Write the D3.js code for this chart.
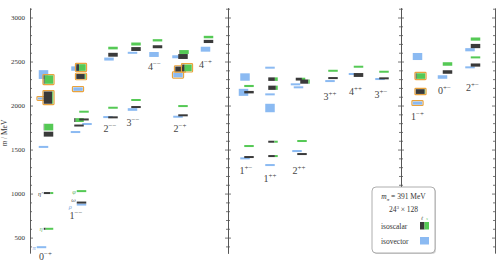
<!DOCTYPE html>
<html>
<head>
<meta charset="utf-8">
<script src="https://cdn.jsdelivr.net/npm/d3@7"></script>
<style>
body { margin: 0; background: #fff; }
svg { font-family: "Liberation Serif", "DejaVu Serif", serif; }
.axis path, .axis line { stroke: #555; stroke-width: 0.8; }
</style>
</head>
<body>
<svg id="chart" width="500" height="263"></svg>
<script>
// J^PC channels, in plotting order
var channels = ["0-+", "1--", "2--", "3--", "4--", "2-+", "4-+",
                "1+-", "1++", "2++", "3++", "4++", "3+-",
                "1-+", "0+-", "2+-"];

// isovector levels: [channel, mass MeV, error MeV, slot, hybrid]
var isovector = [
    ["0-+", 391, 2, -0.4, 0], ["0-+", 1530, 3, 0, 0], ["0-+", 2080, 4, -0.2, 1], ["0-+", 2352, 50, 0, 0],
    ["1--", 875, 2, 1.5, 0], ["1--", 1699, 4, 0.3, 0], ["1--", 1790, 3, 2.6, 0], ["1--", 2187, 20, 0.8, 1], ["1--", 2420, 25, 0.4, 0],
    ["2--", 1869, 3, 0, 0], ["2--", 2528, 17, 0.2, 0],
    ["3--", 1955, 15, 0.3, 0], ["3--", 2599, 8, 0.3, 0],
    ["4--", 2580, 28, 0.3, 0],
    ["2-+", 1873, 3, 0, 0], ["2-+", 2347, 26, 0, 1], ["2-+", 2554, 17, -0.2, 0],
    ["4-+", 2640, 28, 0.4, 0],
    ["1+-", 1400, 3, 0.2, 0], ["1+-", 2150, 40, -0.1, 0], ["1+-", 2324, 42, 0.2, 0],
    ["1++", 1324, 2, 0.4, 0], ["1++", 1972, 48, 0.4, 0], ["1++", 2127, 3, 0.4, 0], ["1++", 2430, 6, 0.4, 0],
    ["2++", 1483, 2, 0, 0], ["2++", 2207, 10, 0.3, 0], ["2++", 2241, 3, -0.3, 0],
    ["3++", 2278, 3, 0.4, 0],
    ["4++", 2358, 3, 0, 0],
    ["3+-", 2301, 3, 0.2, 0],
    ["1-+", 2028, 18, 0.4, 1], ["1-+", 2557, 40, 0.4, 0],
    ["0+-", 2324, 20, 0, 0],
    ["2+-", 2434, 3, -0.1, 0], ["2+-", 2634, 18, -0.1, 0]
];

// isoscalar levels: [channel, mass MeV, error MeV, strange fraction, slot, hybrid]
var isoscalar = [
    ["0-+", 600, 2, 0.8, 0, 0], ["0-+", 1006, 4, 0.3, 0, 0], ["0-+", 1675, 28, 0, 0, 0], ["0-+", 1755, 38, 0.95, 0, 0],
    ["0-+", 2090, 70, 0.1, 0, 1], ["0-+", 2295, 48, 0.9, 0, 1],
    ["1--", 898, 2, 0, 0.5, 0], ["1--", 1028, 2, 1, 0.5, 0], ["1--", 1773, 10, 0, 0, 0], ["1--", 1835, 22, 0.85, 0, 0],
    ["1--", 1842, 3, 0, 1, 0], ["1--", 1930, 3, 1, 1, 0], ["1--", 2330, 28, 0.1, 0.4, 1], ["1--", 2432, 38, 0.7, 0.4, 1],
    ["2--", 1866, 10, 0, 0, 0], ["2--", 1975, 3, 1, 0, 0], ["2--", 2577, 22, 0, 0, 0], ["2--", 2653, 15, 1, 0, 0],
    ["3--", 1983, 4, 0, 0, 0], ["3--", 2063, 4, 1, 0, 0], ["3--", 2642, 22, 0, 0, 0], ["3--", 2699, 17, 1, 0, 0],
    ["4--", 2668, 17, 0, 0, 0], ["4--", 2741, 13, 1, 0, 0],
    ["2-+", 1889, 4, 0, 0, 0], ["2-+", 1994, 3, 1, 0, 0], ["2-+", 2557, 28, 0, 0, 0], ["2-+", 2608, 22, 0.95, 0.2, 0],
    ["2-+", 2415, 28, 0.1, -0.6, 1], ["2-+", 2428, 38, 0.75, 0.8, 1],
    ["4-+", 2728, 18, 0, 0, 0], ["4-+", 2778, 14, 1, 0, 0],
    ["1+-", 1415, 4, 0, 0, 0], ["1+-", 1540, 3, 1, 0, 0], ["1+-", 2152, 14, 0, 0, 0], ["1+-", 2222, 12, 1, 0, 0],
    ["1++", 1426, 6, 0.3, 0, 0], ["1++", 1589, 6, 0.35, 0, 0], ["1++", 2202, 24, 0.2, 0, 0], ["1++", 2300, 20, 0.3, 0, 0],
    ["2++", 1449, 5, 0, 0, 0], ["2++", 1597, 3, 1, 0, 0], ["2++", 2300, 16, 0.35, -0.3, 0], ["2++", 2272, 24, 0.15, 0.6, 0],
    ["3++", 2312, 4, 0, 0, 0], ["3++", 2395, 4, 1, 0, 0],
    ["4++", 2347, 22, 0, 0, 0], ["4++", 2441, 8, 1, 0, 0],
    ["3+-", 2309, 5, 0, 0, 0], ["3+-", 2384, 5, 1, 0, 0],
    ["1-+", 2159, 27, 0.05, 0, 1], ["1-+", 2335, 32, 0.9, 0, 1],
    ["0+-", 2381, 20, 0, 0, 0], ["0+-", 2472, 20, 1, 0, 0],
    ["2+-", 2460, 18, 0, 0, 0], ["2+-", 2547, 4, 1, 0, 0], ["2+-", 2676, 24, 0, 0, 0], ["2+-", 2755, 18, 1, 0, 0]
];

// named low-lying states: [name, channel, kind, mass]
var stateNames = [
    ["π", "0-+", "v", 391], ["η", "0-+", "s", 600], ["η′", "0-+", "s", 1006],
    ["ρ", "1--", "v", 875], ["ω", "1--", "s", 898], ["φ", "1--", "s", 1028]
];

var yTicksMajor = [500, 1000, 1500, 2000, 2500, 3000];

// ---- layout ----
var panelEdges = [30, 228, 401, 495];
var chanCenter = [48.5, 79, 113, 136, 157.5, 183, 208.5,
                  249, 273, 302, 333, 358.5, 384,
                  420.5, 447.5, 475.5];
// label baseline, in MeV units
var chanLabelAt = [244, 710, 1699, 1767, 2403, 1699, 2426,
                   1222, 1131, 1222, 2063, 2119, 2085,
                   1835, 2131, 2165];
// small nudges for the state names (px)
var nameNudge = {"π": [0, 2.5], "η": [0, 2.5], "η′": [0, 2.5], "ρ": [-4, 4.5], "ω": [0, -0.5], "φ": [0, 2.5]};
var boxW = 9.5, slotW = 5, ivShift = -5;
var cBlack = "#3a3a3a", cGreen = "#55c955", cBlue = "#8bbaf2", cOrange = "#e9a33d";

var svg = d3.select("#chart");

var y = d3.scaleLinear().domain([325, 3108]).range([253, 8]);
var x = d3.scaleOrdinal().domain(channels).range(chanCenter);
var labelY = d3.scaleOrdinal().domain(channels).range(chanLabelAt);

function boxH(err) { return Math.max(2, Math.abs(y(0) - y(2 * err))); }

// ---- axes ----
var minorTicks = d3.range(400, 3101, 100).filter(function(v) { return v % 500 != 0; });

function addTicks(x0, axisFn) {
    svg.append("g").attr("class", "axis")
        .attr("transform", "translate(" + x0 + ",0)")
        .call(axisFn(y).tickValues(minorTicks).tickSize(2).tickSizeOuter(0).tickFormat(""));
    svg.append("g").attr("class", "axis")
        .attr("transform", "translate(" + x0 + ",0)")
        .call(axisFn(y).tickValues(yTicksMajor).tickSize(3).tickSizeOuter(0).tickFormat(""));
}
addTicks(panelEdges[0], d3.axisRight);
addTicks(panelEdges[1], d3.axisRight);
addTicks(panelEdges[1], d3.axisLeft);
addTicks(panelEdges[2], d3.axisRight);
addTicks(panelEdges[2], d3.axisLeft);
addTicks(panelEdges[3], d3.axisLeft);

var yLab = svg.append("g")
    .attr("transform", "translate(" + panelEdges[0] + ",0)")
    .call(d3.axisLeft(y).tickValues(yTicksMajor).tickSize(0).tickPadding(5).tickFormat(d3.format("d")));
yLab.select(".domain").remove();
yLab.selectAll("text").attr("font-family", "Liberation Serif").attr("font-size", 7).attr("fill", "#333");

var yt = svg.append("text")
    .attr("transform", "translate(7,133) rotate(-90)")
    .attr("text-anchor", "middle")
    .attr("font-size", 7.5).attr("fill", "#333");
yt.append("tspan").attr("font-style", "italic").text("m");
yt.append("tspan").text(" / MeV");

// ---- levels ----
var ivData = isovector.map(function(d) {
    return {ch: d[0], m: d[1], e: d[2], slot: d[3], hyb: d[4]};
});
var isData = isoscalar.map(function(d) {
    return {ch: d[0], m: d[1], e: d[2], s: d[3], slot: d[4], hyb: d[5]};
});

function ivX(d) { return x(d.ch) + ivShift + d.slot * slotW; }
function isX(d) { return x(d.ch) + d.slot * slotW; }

var gIV = svg.append("g");
gIV.selectAll("rect.hyb").data(ivData.filter(function(d) { return d.hyb; }))
    .enter().append("rect")
    .attr("x", function(d) { return ivX(d) - boxW / 2 - 0.8; })
    .attr("y", function(d) { return y(d.m) - boxH(d.e) / 2 - 0.8; })
    .attr("width", boxW + 1.6)
    .attr("height", function(d) { return boxH(d.e) + 1.6; })
    .attr("fill", "none").attr("stroke", cOrange).attr("stroke-width", 1.2).attr("rx", 0.8);
gIV.selectAll("rect.lev").data(ivData).enter().append("rect")
    .attr("x", function(d) { return ivX(d) - boxW / 2; })
    .attr("y", function(d) { return y(d.m) - boxH(d.e) / 2; })
    .attr("width", boxW)
    .attr("height", function(d) { return boxH(d.e); })
    .attr("fill", cBlue);

var gIS = svg.append("g");
var lev = gIS.selectAll("g.lev").data(isData).enter().append("g");
lev.filter(function(d) { return d.hyb; }).append("rect")
    .attr("x", function(d) { return isX(d) - boxW / 2 - 0.8; })
    .attr("y", function(d) { return y(d.m) - boxH(d.e) / 2 - 0.8; })
    .attr("width", boxW + 1.6)
    .attr("height", function(d) { return boxH(d.e) + 1.6; })
    .attr("fill", "none").attr("stroke", cOrange).attr("stroke-width", 1.2).attr("rx", 0.8);
lev.append("rect")
    .attr("x", function(d) { return isX(d) - boxW / 2; })
    .attr("y", function(d) { return y(d.m) - boxH(d.e) / 2; })
    .attr("width", function(d) { return boxW * (1 - d.s); })
    .attr("height", function(d) { return boxH(d.e); })
    .attr("fill", cBlack);
lev.append("rect")
    .attr("x", function(d) { return isX(d) - boxW / 2 + boxW * (1 - d.s); })
    .attr("y", function(d) { return y(d.m) - boxH(d.e) / 2; })
    .attr("width", function(d) { return boxW * d.s; })
    .attr("height", function(d) { return boxH(d.e); })
    .attr("fill", cGreen);

// names of the ground states
var nameColor = {"π": "#7ea7dd", "η": "#6fb86f", "η′": "#444", "ρ": "#7ea7dd", "ω": "#666", "φ": "#6fb86f"};
svg.append("g").selectAll("text").data(stateNames).enter().append("text")
    .attr("x", function(d) {
        var cx = d[2] == "v" ? x(d[1]) + ivShift : x(d[1]);
        var row = (d[2] == "v" ? ivData : isData).filter(function(r) { return r.ch == d[1] && r.m == d[3]; })[0];
        return cx + row.slot * slotW - boxW / 2 - 1 + nameNudge[d[0]][0];
    })
    .attr("y", function(d) { return y(d[3]) + nameNudge[d[0]][1]; })
    .attr("text-anchor", "end")
    .attr("font-size", 6.5).attr("font-style", "italic")
    .attr("fill", function(d) { return nameColor[d[0]]; })
    .text(function(d) { return d[0]; });

// channel labels
var cl = svg.append("g").selectAll("text").data(channels).enter().append("text")
    .attr("x", function(d) { return x(d) - 3; })
    .attr("y", function(d) { return y(labelY(d)); })
    .attr("text-anchor", "middle")
    .attr("font-size", 10).attr("fill", "#444");
cl.append("tspan").text(function(d) { return d[0]; });
cl.append("tspan").attr("font-size", 7).attr("dy", -4)
    .text(function(d) { return d.slice(1).replace(/-/g, "−"); });

// ---- legend ----
var lg = svg.append("g");
lg.append("rect").attr("x", 373).attr("y", 188).attr("width", 63).attr("height", 66)
    .attr("rx", 4).attr("fill", "#d6d6d6");
lg.append("rect").attr("x", 372).attr("y", 187).attr("width", 63).attr("height", 66)
    .attr("rx", 4).attr("fill", "#fff").attr("stroke", "#999").attr("stroke-width", 0.8);
var t1 = lg.append("text").attr("x", 403.5).attr("y", 199).attr("text-anchor", "middle")
    .attr("font-size", 7.5).attr("fill", "#333");
t1.append("tspan").attr("font-style", "italic").text("m");
t1.append("tspan").attr("font-size", 5).attr("dy", 1.5).attr("font-style", "italic").text("π");
t1.append("tspan").attr("dy", -1.5).text(" = 391 MeV");
var t2 = lg.append("text").attr("x", 403.5).attr("y", 211.5).attr("text-anchor", "middle")
    .attr("font-size", 7.5).attr("fill", "#333");
t2.append("tspan").text("24");
t2.append("tspan").attr("font-size", 5).attr("dy", -3).text("3");
t2.append("tspan").attr("dy", 3).text(" × 128");
lg.append("text").attr("x", 422).attr("y", 219.5).attr("text-anchor", "middle")
    .attr("font-size", 5).attr("font-style", "italic").attr("fill", "#333").text("ℓ");
lg.append("text").attr("x", 427).attr("y", 219.5).attr("text-anchor", "middle")
    .attr("font-size", 5).attr("font-style", "italic").attr("fill", cGreen).text("s");
lg.append("text").attr("x", 381).attr("y", 228.5).attr("font-size", 7.5).attr("fill", "#333").text("isoscalar");
lg.append("text").attr("x", 381).attr("y", 243.5).attr("font-size", 7.5).attr("fill", "#333").text("isovector");
lg.append("rect").attr("x", 420).attr("y", 222).attr("width", 4.5).attr("height", 7.5).attr("fill", cBlack);
lg.append("rect").attr("x", 424.5).attr("y", 222).attr("width", 4.5).attr("height", 7.5).attr("fill", cGreen);
lg.append("rect").attr("x", 420).attr("y", 237).attr("width", 9).attr("height", 7.5).attr("fill", cBlue);
</script>
</body>
</html>
